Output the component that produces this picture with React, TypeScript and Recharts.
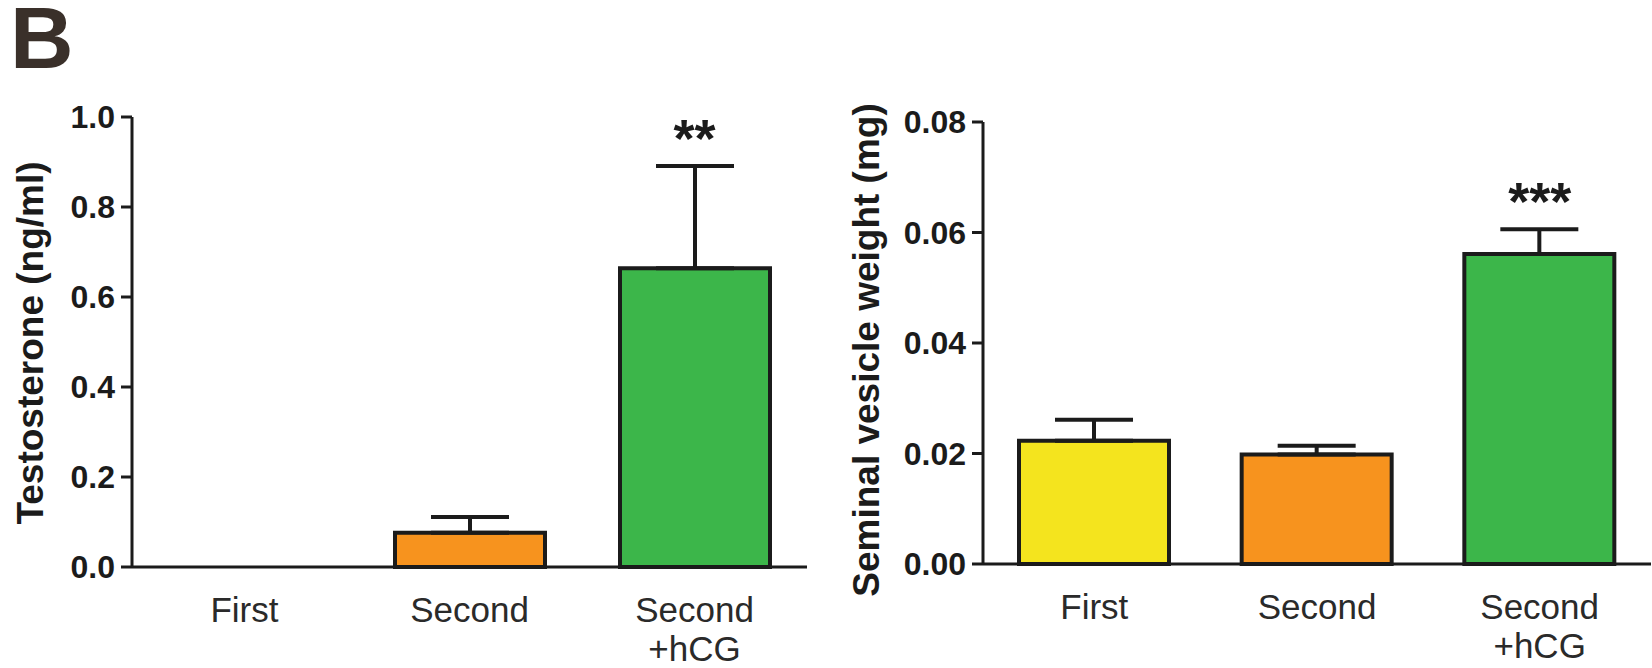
import React from "react"
import { BarChart, Bar, XAxis, YAxis, ErrorBar, Cell, ReferenceDot } from "recharts"

// ---- data ----
const groups = ["First", "Second", "Second\n+hCG"]
const barColors = ["#f4e41e", "#f7931e", "#3cb64a"]

// Testosterone (ng/ml) — no bar for "First"
const testoMean = [null, 0.076, 0.664]
const testoSem = [null, 0.035, 0.227]
const testoSig = ["", "", "**"]
const testoTicks = [0, 0.2, 0.4, 0.6, 0.8, 1.0]

// Seminal vesicle weight (mg)
const svMean = [0.0223, 0.0198, 0.0561]
const svSem = [0.0038, 0.0016, 0.0045]
const svSig = ["", "", "***"]
const svTicks = [0, 0.02, 0.04, 0.06, 0.08]

const FONT = '"Liberation Sans", Arial, Helvetica, sans-serif'
const INK = "#1b1b1b"

const buildRows = (mean: (number | null)[], sem: (number | null)[], sig: string[]) =>
  groups.map((g, i) => ({
    group: g,
    mean: mean[i],
    err: sem[i] == null ? null : [0, sem[i]],
    top: mean[i] == null ? null : (mean[i] as number) + (sem[i] as number),
    sig: sig[i],
  }))

const testoRows = buildRows(testoMean, testoSem, testoSig)
const svRows = buildRows(svMean, svSem, svSig)

function CategoryTick(props: any) {
  const { x, y, payload } = props
  const lines = String(payload.value).split("\n")
  return (
    <text x={x} y={y} textAnchor="middle" fontSize={35} fill="#2a2a2a" fontFamily={FONT}>
      {lines.map((l, i) => (
        <tspan key={i} x={x} dy={i === 0 ? 55 : 39}>
          {l}
        </tspan>
      ))}
    </text>
  )
}

// rotated y-axis title; position given in the chart's own svg pixels
function AxisTitle(props: any) {
  const { posX, posY, text } = props
  return (
    <text
      transform={`translate(${posX},${posY}) rotate(-90)`}
      textAnchor="middle"
      dominantBaseline="central"
      fontSize={37}
      fontWeight={700}
      fill={INK}
      fontFamily={FONT}
    >
      {text}
    </text>
  )
}

function StarLabel(props: any) {
  const { viewBox, text } = props
  if (!viewBox) return null
  return (
    <text
      x={viewBox.x + viewBox.width / 2}
      y={viewBox.y - 8}
      textAnchor="middle"
      fontSize={54}
      fontWeight={700}
      fill={INK}
      fontFamily={FONT}
    >
      {text}
    </text>
  )
}

type PanelProps = {
  rows: ReturnType<typeof buildRows>
  ticks: number[]
  digits: number
  title: string
  titleX: number
  titleY: number
  width: number
  yAxisWidth: number
  top: number
  xAxisHeight: number
  right: number
}

function Panel(p: PanelProps) {
  return (
    <BarChart
      width={p.width}
      height={668}
      data={p.rows}
      margin={{ top: p.top, right: p.right, bottom: 0, left: 0 }}
      barSize={150}
    >
      <XAxis
        dataKey="group"
        height={p.xAxisHeight}
        tickLine={false}
        tickSize={0}
        tickMargin={0}
        axisLine={{ stroke: INK, strokeWidth: 3 }}
        tick={<CategoryTick />}
        interval={0}
      />
      <YAxis
        width={p.yAxisWidth}
        domain={[0, p.ticks[p.ticks.length - 1]]}
        ticks={p.ticks}
        tickFormatter={(v: number) => v.toFixed(p.digits)}
        tickSize={11}
        tickMargin={6}
        axisLine={{ stroke: INK, strokeWidth: 3 }}
        tickLine={{ stroke: INK, strokeWidth: 3 }}
        tick={{ fontSize: 32, fontWeight: 700, fill: INK, fontFamily: FONT }}
        label={<AxisTitle posX={p.titleX} posY={p.titleY} text={p.title} />}
      />
      <Bar dataKey="mean" stroke={INK} strokeWidth={4} isAnimationActive={false}>
        {p.rows.map((r, i) => (
          <Cell key={r.group} fill={barColors[i]} />
        ))}
        <ErrorBar dataKey="err" width={39} stroke={INK} strokeWidth={4} />
      </Bar>
      {p.rows
        .filter((r) => r.sig)
        .map((r) => (
          <ReferenceDot
            key={r.group}
            x={r.group}
            y={r.top as number}
            r={1}
            fill="none"
            stroke="none"
            label={<StarLabel text={r.sig} />}
          />
        ))}
    </BarChart>
  )
}

export default function App() {
  return (
    <div
      style={{
        position: "absolute",
        left: 0,
        top: 0,
        width: 1652,
        height: 668,
        background: "#fff",
        fontFamily: FONT,
        overflow: "hidden",
      }}
    >
      <div
        style={{
          position: "absolute",
          left: 10,
          top: 3,
          fontSize: 88,
          lineHeight: "70px",
          fontWeight: 700,
          color: "#3a302a",
        }}
      >
        B
      </div>
      <div style={{ position: "absolute", left: 0, top: 0 }}>
        <Panel
          rows={testoRows}
          ticks={testoTicks}
          digits={1}
          title="Testosterone (ng/ml)"
          titleX={30}
          titleY={343}
          width={820}
          yAxisWidth={132}
          top={117}
          xAxisHeight={101}
          right={13}
        />
      </div>
      <div style={{ position: "absolute", left: 826, top: 0 }}>
        <Panel
          rows={svRows}
          ticks={svTicks}
          digits={2}
          title="Seminal vesicle weight (mg)"
          titleX={40}
          titleY={350}
          width={826}
          yAxisWidth={157}
          top={122}
          xAxisHeight={104}
          right={1}
        />
      </div>
    </div>
  )
}
